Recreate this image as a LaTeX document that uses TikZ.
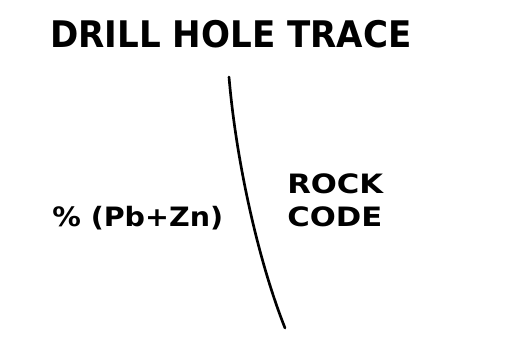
\documentclass[tikz,border=0pt]{standalone}
\usepackage{fontspec}
\setmainfont{DejaVu Sans}
\newfontfamily\widefont[FakeStretch=1.15]{DejaVu Sans}
\newfontfamily\gradefont[FakeStretch=1.07]{DejaVu Sans}
\newfontfamily\titlefont[FakeStretch=0.93]{DejaVu Sans}
\usetikzlibrary{positioning}

\begin{document}
\begin{tikzpicture}[
  x=0.75pt, y=-0.75pt,
  label/.style={font=\widefont\fontsize{20}{24}\selectfont\bfseries, inner sep=0pt, anchor=base west},
  heading/.style={font=\titlefont\fontsize{27.5}{32}\selectfont\bfseries, inner sep=0pt, anchor=base west},
  trace/.style={line width=2pt, line cap=round},
]
\useasboundingbox (0,0) rectangle (523,355);

% --- title ---
\node[heading] (title) at (50,47) {DRILL HOLE TRACE};

% --- hole trace ---
\coordinate (collar) at (229,77);
\coordinate (toe) at (285,328);
\draw[trace] (collar) .. controls (236,160) and (258,260) .. (toe);

% --- column labels ---
\node[label] (rock) at (287,193) {ROCK};
\node[label] (code) at (287,226) {CODE};
\node[label, font=\gradefont\fontsize{20}{24}\selectfont\bfseries] (grade) at (52,226) {\% (Pb+Zn)};

\end{tikzpicture}
\end{document}
